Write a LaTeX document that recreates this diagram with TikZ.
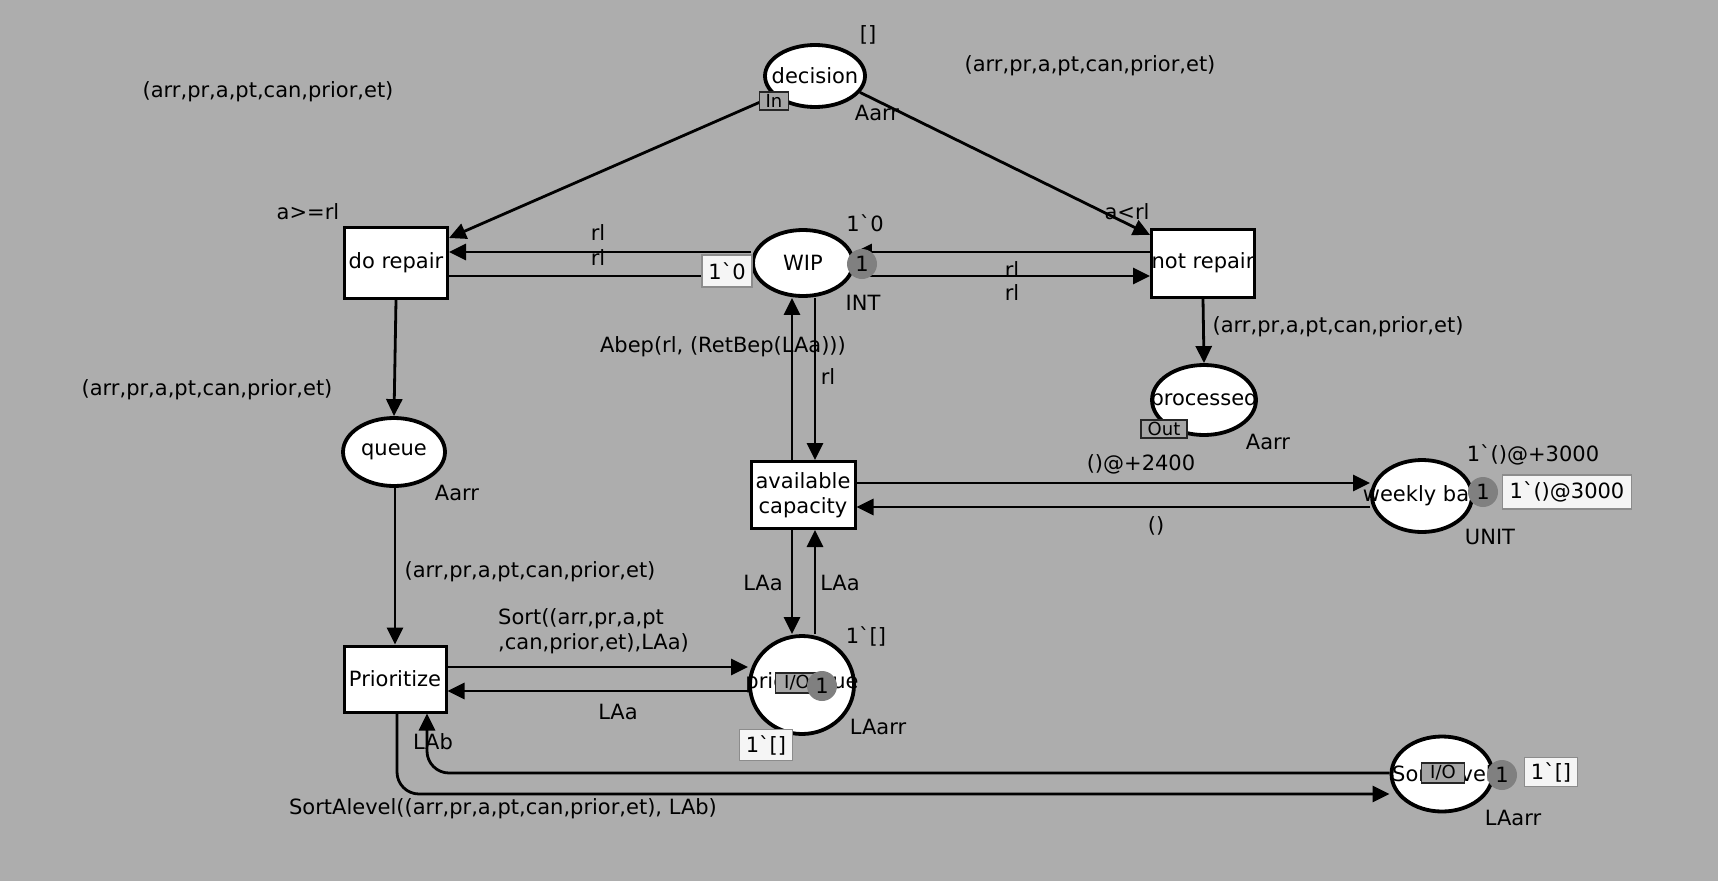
\documentclass[tikz,border=0pt]{standalone}
\usepackage{fontspec}
\setmainfont{DejaVu Sans}
\usetikzlibrary{shapes.geometric,arrows.meta,calc}
\pgfdeclarelayer{bg}
\pgfdeclarelayer{edges}
\pgfsetlayers{bg,edges,main}
\newcommand\bq{\textasciigrave}
\begin{document}
\begin{tikzpicture}[x=1pt,y=-1pt,
  every node/.style={font=\fontsize{21}{25}\selectfont, inner sep=0pt},
  place/.style={ellipse, draw=black, line width=3.8pt, fill=white, inner sep=0pt},
  trans/.style={rectangle, draw=black, line width=3pt, fill=white, inner sep=0pt, align=center},
  arc/.style={line width=2.8pt, -{Triangle[length=17pt,width=16pt]}},
  lbl/.style={text=black},
  token/.style={circle, fill=black!50, minimum size=30pt, inner sep=0pt},
  initbox/.style={fill=gray!8, draw=black!45, line width=1.5pt, inner xsep=5pt},
  portbox/.style={fill=black!35, draw=black!85, line width=1.5pt, inner sep=1pt, font=\fontsize{18}{20}\selectfont}
]
\begin{pgfonlayer}{bg}
\fill[black!32] (0,0) rectangle (1718,881);
\end{pgfonlayer}
\useasboundingbox (0,0) rectangle (1718,881);

% places
\node[place, minimum width=100pt, minimum height=62pt] (decision) at (815,76) {};
\node (decisiontxt) at (decision) {decision};
\node[place, minimum width=100pt, minimum height=66pt] (wip) at (803,263) {};
\node (wiptxt) at (wip) {WIP};
\node[place, minimum width=104pt, minimum height=70pt] (processed) at (1204,400) {};
\node (processedtxt) at (processed) {processed};
\node[place, minimum width=102pt, minimum height=68pt] (queue) at (394,452) {};
\node (queuetxt) at (queue) {queue};
\node[place, minimum width=100pt, minimum height=72pt] (weekly) at (1422,496) {};
\node (weeklytxt) at (1416,496) {weekly ba};
\node[place, minimum width=104pt, minimum height=98pt] (prio) at (802,685) {};
\node (priotxt) at (802,683) {prio queue};
\node[place, minimum width=101pt, minimum height=75pt] (sortlevel) at (1442,774) {};
\node (sortleveltxt) at (sortlevel) {Sort level};

% transitions
\node[trans, minimum width=103pt, minimum height=71pt] (dorepair) at (396,263) {do repair};
\node[trans, minimum width=102pt, minimum height=68pt] (notrepair) at (1203,263) {not repair};
\node[trans, minimum width=104pt, minimum height=67pt] (avail) at (803,495) {available\\capacity};
\node[trans, minimum width=102pt, minimum height=66pt] (prioritize) at (395,679) {Prioritize};

% arcs
\begin{pgfonlayer}{edges}
\draw[arc] (decision.206) -- ([yshift=25pt]dorepair.east);
\draw[arc] (decision.340) -- ([yshift=28pt]notrepair.west);
\draw[arc] ([yshift=11pt]wip.west) -- ([yshift=11pt]dorepair.east);
\draw[arc] ([yshift=-13pt]dorepair.east) -- ([yshift=-13pt]wip.west);
\draw[arc] ([yshift=11pt]notrepair.west) -- ([yshift=11pt]wip.east);
\draw[arc] ([yshift=-13pt]wip.east) -- ([yshift=-13pt]notrepair.west);
\draw[arc] (notrepair.south) -- (processed.north);
\draw[arc] (dorepair.south) -- (queue.north);
\draw[arc] ([xshift=1pt]queue.south) -- (prioritize.north);
\draw[arc] ([xshift=-11pt]avail.north) -- ([xshift=-11pt]wip.south);
\draw[arc] ([xshift=12pt]wip.south) -- ([xshift=12pt]avail.north);
\draw[arc] ([xshift=-11pt]avail.south) -- ([xshift=-10pt]prio.north);
\draw[arc] ([xshift=13pt]prio.north) -- ([xshift=12pt]avail.south);
\draw[arc] ([yshift=12pt]avail.east) -- ([yshift=13pt]weekly.west);
\draw[arc] ([yshift=-11pt]weekly.west) -- ([yshift=-12pt]avail.east);
\draw[arc] ([yshift=12pt]prioritize.east) -- ([yshift=18pt]prio.west);
\draw[arc] ([yshift=-6pt]prio.west) -- ([yshift=-12pt]prioritize.east);
\draw[arc, rounded corners=22pt] ([yshift=1pt]sortlevel.west) -| ([xshift=32pt]prioritize.south);
\draw[arc, rounded corners=22pt] ([xshift=2pt]prioritize.south) |- ([yshift=-20pt]sortlevel.west);
\end{pgfonlayer}

% port boxes
\node[portbox, minimum width=29pt, minimum height=18pt] (decport) at (774,101) {In};
\node[portbox, minimum width=46pt, minimum height=18pt] (procport) at (1164,429) {Out};
\node[portbox, minimum width=43pt, minimum height=20pt] (prioport) at (797,683) {I/O};
\node[portbox, minimum width=43pt, minimum height=20pt] (sortport) at (1443,773) {I/O};

% tokens
\node[token] (wiptok) at (862,264) {1};
\node[token] (weeklytok) at (1483,492) {1};
\node[token] (priotok) at (822,686) {1};
\node[token] (sorttok) at (1502,775) {1};

% initial markings
\node[initbox, minimum width=50pt, minimum height=32pt] (wipinit) at (727,271) {1\bq 0};
\node[initbox, minimum width=129pt, minimum height=34pt] (weeklyinit) at (1567,492) {1\bq()@3000};
\node[initbox, minimum width=53pt, minimum height=31pt] (prioinit) at (766,745) {1\bq[]};
\node[initbox, minimum width=53pt, minimum height=29pt] (sortinit) at (1551,772) {1\bq[]};

% labels
\node[lbl] (l1) at (868,35) {[]};
\node[lbl] (l2) at (1090,66) {(arr,pr,a,pt,can,prior,et)};
\node[lbl] (l3) at (268,92) {(arr,pr,a,pt,can,prior,et)};
\node[lbl] (l4) at (877,113) {Aarr};
\node[lbl] (l5) at (308,212) {a>=rl};
\node[lbl] (l6) at (1127,212) {a<rl};
\node[lbl] (l7) at (598,233) {rl};
\node[lbl] (l8) at (598,258) {rl};
\node[lbl] (l9) at (865,223) {1\bq 0};
\node[lbl] (l10) at (863,303) {INT};
\node[lbl] (l11) at (1012,270) {rl};
\node[lbl] (l12) at (1012,293) {rl};
\node[lbl] (l13) at (1338,327) {(arr,pr,a,pt,can,prior,et)};
\node[lbl] (l14) at (1268,442) {Aarr};
\node[lbl] (l15) at (207,390) {(arr,pr,a,pt,can,prior,et)};
\node[lbl] (l16) at (457,493) {Aarr};
\node[lbl] (l17) at (723,347) {Abep(rl, (RetBep(LAa)))};
\node[lbl] (l18) at (828,377) {rl};
\node[lbl] (l19) at (1141,464) {()@+2400};
\node[lbl] (l20) at (1156,526) {()};
\node[lbl] (l21) at (1533,455) {1\bq()@+3000};
\node[lbl] (l22) at (1490,537) {UNIT};
\node[lbl] (l23) at (530,572) {(arr,pr,a,pt,can,prior,et)};
\node[lbl, align=left, anchor=west] (l24) at (498,631) {Sort((arr,pr,a,pt\\,can,prior,et),LAa)};
\node[lbl] (l25) at (618,712) {LAa};
\node[lbl] (l26) at (763,583) {LAa};
\node[lbl] (l27) at (840,583) {LAa};
\node[lbl] (l28) at (866,636) {1\bq[]};
\node[lbl] (l29) at (878,727) {LAarr};
\node[lbl] (l30) at (433,742) {LAb};
\node[lbl] (l31) at (503,809) {SortAlevel((arr,pr,a,pt,can,prior,et), LAb)};
\node[lbl] (l32) at (1513,818) {LAarr};
\end{tikzpicture}
\end{document}
